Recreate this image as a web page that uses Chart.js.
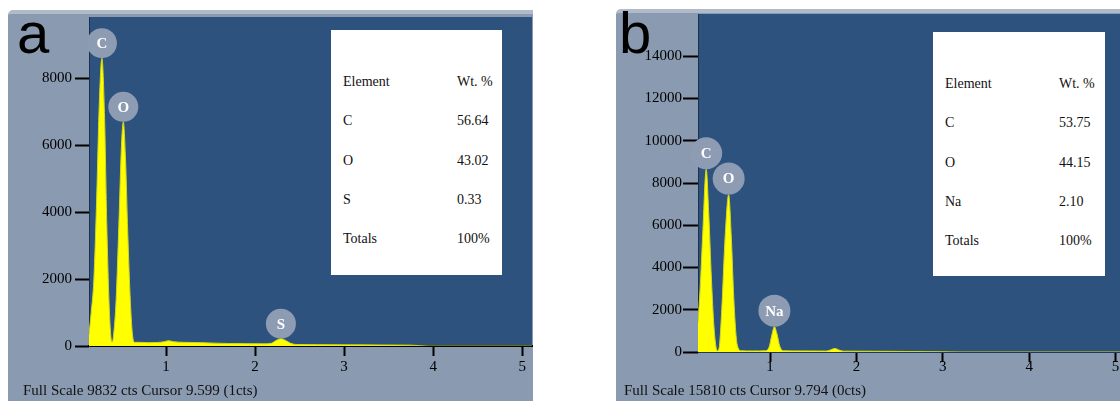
<!DOCTYPE html>
<html>
<head>
<meta charset="utf-8">
<script src="https://cdn.jsdelivr.net/npm/chart.js@4.4.1/dist/chart.umd.min.js"></script>
<style>
html, body { margin: 0; padding: 0; overflow: hidden; }
body { width: 1120px; height: 401px; position: relative; background: #fff; font-family: "Liberation Serif", serif; }
.panel { position: absolute; background: #8a9ab0; border-top: 4px solid #b0bac8; border-radius: 5px 0 0 0; }
canvas { position: absolute; top: 0; }
.tbl { position: absolute; background: #fff; }
.row { position: absolute; left: 0; width: 100%; height: 20px; line-height: 20px; font-size: 14px; color: #111; }
.row span { position: absolute; top: 0; }
.big { position: absolute; top: 4px; font-family: "Liberation Sans", sans-serif; font-size: 58px; line-height: 58px; color: #000; }
.foot { position: absolute; top: 381px; font-size: 15px; line-height: 18px; color: #111; white-space: nowrap; }
</style>
</head>
<body>
<div class="panel" style="left:8px; top:10px; width:525px; height:400px;"></div>
<div class="panel" style="left:616px; top:9px; width:520px; height:400px;"></div>

<canvas id="chartA" width="533" height="401" style="left:0;"></canvas>
<canvas id="chartB" width="566" height="401" style="left:560px;"></canvas>

<div class="big" style="left:17px;">a</div>
<div class="big" style="left:619px;">b</div>

<div class="tbl" id="tableA" style="left:331px; top:30px; width:171px; height:245px;"></div>
<div class="tbl" id="tableB" style="left:933px; top:32px; width:172px; height:244px;"></div>

<div class="foot" style="left:23px;">Full Scale 9832 cts Cursor 9.599 (1cts)</div>
<div class="foot" style="left:624px;">Full Scale 15810 cts Cursor 9.794 (0cts)</div>

<script>
// spectrum a (keV, counts)
const energyA = [0.135, 0.16, 0.19, 0.22, 0.25, 0.28, 0.31, 0.335, 0.36, 0.38, 0.395,
  0.41, 0.44, 0.47, 0.50, 0.52, 0.545, 0.57, 0.60, 0.625, 0.65,
  0.70, 0.80, 0.90, 0.98, 1.03, 1.08, 1.20, 1.40, 1.55, 1.70, 1.90, 2.10,
  2.18, 2.24, 2.29, 2.34, 2.40, 2.46, 2.70, 3.00, 3.40, 3.75, 3.85, 3.95, 5.11];
const countsA = [350, 1000, 2000, 4300, 7200, 8600, 6800, 3600, 1300, 300, 120,
  300, 1400, 3600, 6000, 6700, 5600, 3400, 1300, 300, 110,
  110, 100, 105, 130, 160, 130, 110, 100, 85, 75, 70, 65,
  80, 170, 220, 170, 80, 45, 40, 35, 30, 25, 10, 0, 0];

// spectrum b (keV, counts)
const energyB = [0.165, 0.19, 0.22, 0.26, 0.29, 0.32, 0.35, 0.375, 0.39,
  0.41, 0.44, 0.48, 0.52, 0.55, 0.58, 0.61, 0.635, 0.66,
  0.80, 0.95, 0.99, 1.02, 1.05, 1.08, 1.11, 1.15,
  1.40, 1.65, 1.70, 1.75, 1.80, 1.85, 2.20, 2.60, 3.00, 3.20, 5.11];
const countsB = [1400, 3000, 5600, 8650, 6500, 3500, 1200, 200, 60,
  200, 2000, 5500, 7450, 5500, 2500, 600, 150, 60,
  50, 60, 250, 800, 1200, 850, 300, 60,
  50, 45, 100, 170, 90, 40, 35, 25, 10, 0, 0];

const xTicks = [1, 2, 3, 4, 5];
const yTicksA = [0, 2000, 4000, 6000, 8000];
const yTicksB = [0, 2000, 4000, 6000, 8000, 10000, 12000, 14000];

const peakNamesA = ['C', 'O', 'S'];
const peakEnergyA = [0.28, 0.52, 2.29];
const peakCountA = [8600, 6700, 220];

const peakNamesB = ['C', 'O', 'Na'];
const peakEnergyB = [0.26, 0.52, 1.05];
const peakCountB = [8650, 7450, 1200];

const tableHead = ['Element', 'Wt. %'];
const elementsA = ['C', 'O', 'S', 'Totals'];
const wtA = ['56.64', '43.02', '0.33', '100%'];
const elementsB = ['C', 'O', 'Na', 'Totals'];
const wtB = ['53.75', '44.15', '2.10', '100%'];

function fillTable(id, names, vals) {
    const el = document.getElementById(id);
    const rows = [tableHead].concat(names.map((n, i) => [n, vals[i]]));
    rows.forEach((r, i) => {
        const d = document.createElement('div');
        d.className = 'row';
        d.style.top = (42 + i * 39.3) + 'px';
        d.innerHTML = '<span style="left:12px">' + r[0] + '</span><span style="left:126px">' + r[1] + '</span>';
        el.appendChild(d);
    });
}
fillTable('tableA', elementsA, wtA);
fillTable('tableB', elementsB, wtB);

const plotBg = {
    id: 'plotBg',
    beforeDraw(chart) {
        const { ctx, chartArea: a } = chart;
        ctx.save();
        ctx.fillStyle = '#2c527d';
        ctx.fillRect(a.left, a.top, a.right - a.left, a.bottom - a.top);
        ctx.restore();
    }
};

const peakTags = {
    id: 'peakTags',
    afterDatasetsDraw(chart, args, opts) {
        const { ctx, scales: { x, y } } = chart;
        ctx.save();
        opts.names.forEach((n, i) => {
            const px = x.getPixelForValue(opts.energies[i]);
            const py = y.getPixelForValue(opts.counts[i]) - opts.radius;
            ctx.beginPath();
            ctx.arc(px, py, opts.radius, 0, Math.PI * 2);
            ctx.fillStyle = '#8d9bb3';
            ctx.fill();
            ctx.fillStyle = '#fff';
            ctx.font = 'bold 15px "Liberation Serif"';
            ctx.textAlign = 'center';
            ctx.textBaseline = 'middle';
            ctx.fillText(n, px, py + 1);
        });
        ctx.restore();
    }
};

function makeChart(id, energy, counts, opt) {
    return new Chart(document.getElementById(id), {
        type: 'line',
        data: {
            datasets: [{
                data: energy.map((e, i) => ({ x: e, y: counts[i] })),
                borderColor: '#d2d81c',
                borderWidth: 1,
                backgroundColor: '#ffff00',
                fill: 'origin',
                pointRadius: 0,
                cubicInterpolationMode: 'monotone'
            }]
        },
        options: {
            responsive: false,
            animation: false,
            layout: { padding: { left: 0, right: opt.padRight, top: opt.top, bottom: 0 } },
            plugins: {
                legend: { display: false },
                tooltip: { enabled: false },
                peakTags: { names: opt.names, energies: opt.energies, counts: opt.counts, radius: opt.radius }
            },
            scales: {
                x: {
                    type: 'linear',
                    min: opt.xMin,
                    max: 5.11,
                    afterBuildTicks: s => { s.ticks = xTicks.map(v => ({ value: v })); },
                    afterFit: s => { s.height = opt.xHeight; },
                    grid: { drawOnChartArea: false, drawTicks: true, tickLength: 10, tickWidth: 2, tickColor: '#000' },
                    border: { display: true, color: opt.xBorder, width: opt.xBorderWidth },
                    ticks: { color: '#000', padding: opt.xPad, maxRotation: 0, callback: v => String(v),
                        font: { family: 'Liberation Serif', size: 15 } }
                },
                y: {
                    min: 0,
                    max: opt.yMax,
                    afterBuildTicks: s => { s.ticks = opt.yTicks.map(v => ({ value: v })); },
                    afterFit: s => { s.width = opt.yWidth; },
                    grid: { drawOnChartArea: false, drawTicks: true, tickLength: opt.yTickLen, tickWidth: 2, tickColor: '#000' },
                    border: { display: true, color: '#1c2f4c', width: 1 },
                    ticks: { color: '#000', padding: opt.yPad, callback: v => String(v),
                        font: { family: 'Liberation Serif', size: 15 } }
                }
            }
        },
        plugins: [plotBg, peakTags]
    });
}

makeChart('chartA', energyA, countsA, {
    padRight: 1, top: 17, xMin: 0.135, xHeight: 55, yWidth: 89, yMax: 9832, yTicks: yTicksA,
    yTickLen: 14, yPad: 3, xPad: 2, xBorder: '#000', xBorderWidth: 2,
    names: peakNamesA, energies: peakEnergyA, counts: peakCountA, radius: 15
});

makeChart('chartB', energyB, countsB, {
    padRight: 1, top: 14, xMin: 0.165, xHeight: 49, yWidth: 138, yMax: 16000, yTicks: yTicksB,
    yTickLen: 15, yPad: 1, xPad: -4, xBorder: '#223a5a', xBorderWidth: 1,
    names: peakNamesB, energies: peakEnergyB, counts: peakCountB, radius: 16
});
</script>
</body>
</html>
